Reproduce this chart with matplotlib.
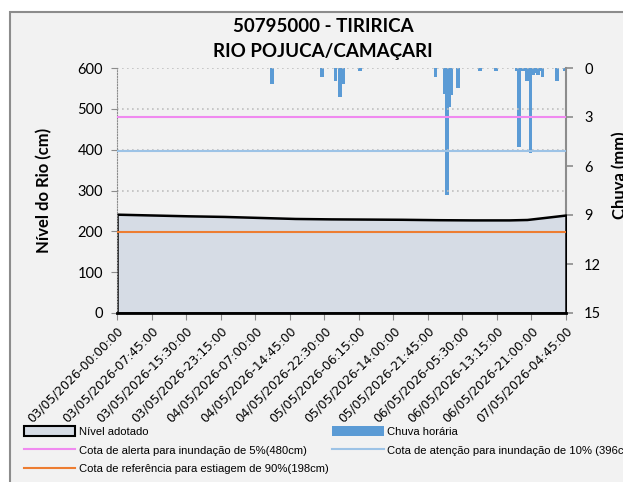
import numpy as np
import pandas as pd
import matplotlib
matplotlib.use("Agg")
import matplotlib.pyplot as plt
from matplotlib.patches import Rectangle, Patch
from matplotlib.lines import Line2D

# --- data ---
start = pd.Timestamp("2026-05-03 00:00")
n_steps = 403  # 15 min steps up to 07/05/2026 04:45

tick_labels = ["03/05/2026-00:00:00", "03/05/2026-07:45:00", "03/05/2026-15:30:00",
               "03/05/2026-23:15:00", "04/05/2026-07:00:00", "04/05/2026-14:45:00",
               "04/05/2026-22:30:00", "05/05/2026-06:15:00", "05/05/2026-14:00:00",
               "05/05/2026-21:45:00", "06/05/2026-05:30:00", "06/05/2026-13:15:00",
               "06/05/2026-21:00:00", "07/05/2026-04:45:00"]

level_time = ["2026-05-03 00:00", "2026-05-03 08:00", "2026-05-03 16:00", "2026-05-04 00:00",
              "2026-05-04 08:00", "2026-05-04 16:00", "2026-05-05 00:00", "2026-05-05 08:00",
              "2026-05-05 16:00", "2026-05-06 00:00", "2026-05-06 08:00", "2026-05-06 16:00",
              "2026-05-06 20:00", "2026-05-07 00:00", "2026-05-07 04:45"]
level_cm = [242, 240, 238, 236.5, 234, 231.5, 230.5, 230, 229.5, 228.5, 228, 228, 229, 234, 240]

rain_time = ["2026-05-04 10:45", "2026-05-04 22:00", "2026-05-05 01:00", "2026-05-05 02:00",
             "2026-05-05 02:45", "2026-05-05 06:30", "2026-05-05 23:30", "2026-05-06 01:30",
             "2026-05-06 02:00", "2026-05-06 02:30", "2026-05-06 03:00", "2026-05-06 04:30",
             "2026-05-06 09:30", "2026-05-06 13:00", "2026-05-06 17:45", "2026-05-06 18:15",
             "2026-05-06 18:45", "2026-05-06 19:15", "2026-05-06 20:00", "2026-05-06 20:45",
             "2026-05-06 21:30", "2026-05-06 22:00", "2026-05-06 22:30", "2026-05-06 23:00",
             "2026-05-06 23:30", "2026-05-07 02:45", "2026-05-07 04:30"]
rain_mm = [1.0, 0.57, 0.8, 1.8, 1.0, 0.2, 0.57, 1.6, 7.8, 2.4, 1.65, 1.2, 0.2, 0.2,
           0.17, 4.86, 0.17, 0.17, 0.8, 5.2, 0.4, 0.3, 0.4, 0.2, 0.57, 0.8, 0.2]

alerta = 480
atencao = 396
estiagem = 198


def to_idx(times):
    t = pd.to_datetime(pd.Series(times))
    return ((t - start) / pd.Timedelta(minutes=15)).to_numpy()


level_x = to_idx(level_time)
rain_x = to_idx(rain_time)

fig = plt.figure(figsize=(6.23, 4.82), dpi=100, facecolor="white")
fig.patches.append(Rectangle((10 / 623, -0.1), 1.2, 1.1 - 12 / 482, transform=fig.transFigure,
                             facecolor="#F2F2F2", edgecolor="#8C8C8C", linewidth=1.5, zorder=-10))

ax = fig.add_axes([117 / 623, 1 - 313 / 482, 449 / 623, 245 / 482])
ax2 = ax.twinx()
ax.set_zorder(ax2.get_zorder() + 1)
ax.patch.set_visible(False)
ax2.patch.set_facecolor("white")

# rain bars on the inverted right axis
ax2.bar(rain_x, rain_mm, width=3.2, color="#5B9BD5", align="center")
ax2.set_ylim(15, 0)
ax2.set_yticks(np.arange(0, 16, 3))

# level area
ax.fill_between(level_x, 0, level_cm, facecolor="#D6DCE5", edgecolor="black", linewidth=1.8, zorder=2)
ax.axhline(alerta, color="#F08AF0", linewidth=1.5, zorder=3)
ax.axhline(atencao, color="#9DC3E6", linewidth=1.5, zorder=3)
ax.axhline(estiagem, color="#ED7D31", linewidth=1.5, zorder=3)

ax.set_xlim(0, n_steps)
ax.set_ylim(0, 600)
ax2.set_xlim(0, n_steps)
ax.set_yticks(np.arange(0, 601, 100))
ax.yaxis.grid(True, linestyle=(0, (1, 2)), color="#BFBFBF", linewidth=1.2)
ax.set_axisbelow(True)
ax.set_xticks(np.arange(0, n_steps + 1, 31))
ax.set_xticklabels(tick_labels, rotation=45, ha="right", va="top", rotation_mode="anchor",
                   fontsize=8.8, family="DejaVu Sans")

for a in (ax, ax2):
    a.spines["top"].set_visible(False)
ax.spines["left"].set_linestyle((0, (1, 1.5)))
ax.spines["left"].set_color("#8C8C8C")
ax.spines["right"].set_visible(False)
ax.spines["bottom"].set_color("black")
ax.spines["bottom"].set_linewidth(2)
ax2.spines["left"].set_visible(False)
ax2.spines["bottom"].set_visible(False)
ax2.spines["right"].set_color("#8C8C8C")
ax2.spines["right"].set_linewidth(1.5)

ax.tick_params(axis="y", length=4, color="#8C8C8C", labelsize=10.5, pad=6)
ax.tick_params(axis="x", length=5, color="#8C8C8C", pad=3)
ax2.tick_params(axis="y", length=5, width=1.2, color="#8C8C8C", labelsize=10.5, pad=8)
for lab in ax.get_yticklabels() + ax2.get_yticklabels():
    lab.set_family("Lato")

ax.set_ylabel("Nível do Rio (cm)", fontsize=12, fontweight="bold", family="Lato")
ax.yaxis.set_label_coords(-0.145, 0.5)
fig.text(612 / 623, 1 - 175 / 482, "Chuva (mm)", rotation=90, fontsize=12, fontweight="bold",
         family="Lato", ha="left", va="center")

fig.text(323 / 623, 1 - 27 / 482, "50795000 - TIRIRICA", ha="center", va="center",
         fontsize=13.5, fontweight="bold", family="Lato")
fig.text(323 / 623, 1 - 51 / 482, "RIO POJUCA/CAMAÇARI", ha="center", va="center",
         fontsize=13.5, fontweight="bold", family="Lato")

handles = [
    Patch(facecolor="#D6DCE5", edgecolor="black", linewidth=1.5, label="Nível adotado"),
    Line2D([], [], color="#F08AF0", linewidth=1.5, label="Cota de alerta para inundação de 5%(480cm)"),
    Line2D([], [], color="#ED7D31", linewidth=1.5, label="Cota de referência para estiagem de 90%(198cm)"),
    Patch(facecolor="#5B9BD5", edgecolor="none", label="Chuva horária"),
    Line2D([], [], color="#9DC3E6", linewidth=1.5, label="Cota de atenção para inundação de 10% (396cm)"),
]
fig.legend(handles=handles, ncol=2, loc="upper left", bbox_to_anchor=(19 / 623, 1 - 421 / 482),
           frameon=False, prop={"family": "Liberation Sans", "size": 8.1},
           handlelength=4.6, handleheight=1.1, handletextpad=0.3, columnspacing=0.3,
           labelspacing=0.68, borderaxespad=0)

fig.savefig("out.png", dpi=100, facecolor=fig.get_facecolor())
